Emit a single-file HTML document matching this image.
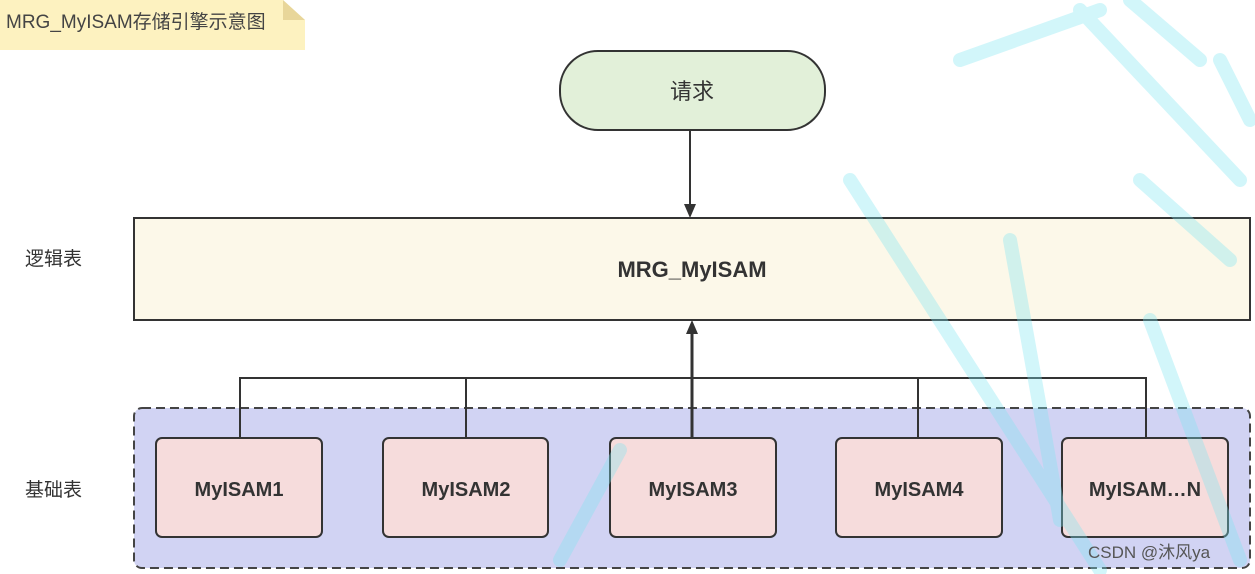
<!DOCTYPE html>
<html><head><meta charset="utf-8"><style>
body{margin:0;width:1255px;height:574px;background:#fff;overflow:hidden;font-family:"Liberation Sans","Noto Sans CJK SC",sans-serif;}
</style></head><body>
<svg width="1255" height="574" xmlns="http://www.w3.org/2000/svg" style="position:absolute;left:0;top:0">
<polygon points="0,0 283,0 305,20 305,50 0,50" fill="#fdf2c0"/>
<polygon points="283,0 305,20 283,20" fill="#e8d69a"/>
<text x="6" y="28" font-size="19" fill="#444">MRG_MyISAM存储引擎示意图</text>
<rect x="560" y="51" width="265" height="79" rx="38" fill="#e2f0d9" stroke="#333" stroke-width="2"/>
<text x="692" y="99" font-size="22" fill="#333" text-anchor="middle">请求</text>
<line x1="690" y1="130" x2="690" y2="206" stroke="#333" stroke-width="2"/>
<polygon points="684,204 696,204 690,218" fill="#333"/>
<rect x="134" y="218" width="1116" height="102" fill="#fcf8e9" stroke="#333" stroke-width="2"/>
<text x="692" y="277" font-size="22" font-weight="bold" fill="#333" text-anchor="middle">MRG_MyISAM</text>
<text x="25" y="265" font-size="19" fill="#333">逻辑表</text>
<text x="25" y="496" font-size="19" fill="#333">基础表</text>
<rect x="134" y="408" width="1116" height="160" rx="8" fill="#d1d3f3" stroke="#444" stroke-width="2" stroke-dasharray="9,5"/>
<polyline points="240,438 240,378 1146,378 1146,438" fill="none" stroke="#333" stroke-width="2"/>
<line x1="466" y1="378" x2="466" y2="438" stroke="#333" stroke-width="2"/>
<line x1="918" y1="378" x2="918" y2="438" stroke="#333" stroke-width="2"/>
<line x1="692" y1="438" x2="692" y2="332" stroke="#333" stroke-width="3"/>
<polygon points="686,334 698,334 692,320" fill="#333"/>
<g fill="#f6dcdc" stroke="#333" stroke-width="2">
<rect x="156" y="438" width="166" height="99" rx="6"/>
<rect x="383" y="438" width="165" height="99" rx="6"/>
<rect x="610" y="438" width="166" height="99" rx="6"/>
<rect x="836" y="438" width="166" height="99" rx="6"/>
<rect x="1062" y="438" width="166" height="99" rx="6"/>
</g>
<g font-size="20" font-weight="bold" fill="#333" text-anchor="middle">
<text x="239" y="496">MyISAM1</text><text x="466" y="496">MyISAM2</text>
<text x="693" y="496">MyISAM3</text><text x="919" y="496">MyISAM4</text>
<text x="1145" y="496">MyISAM…N</text>
</g>
<g stroke="#7fe6f2" stroke-width="14" fill="none" opacity="0.35" stroke-linecap="round">
<path d="M1080 10 L1240 180"/><path d="M960 60 L1100 10"/><path d="M850 180 L1100 570"/>
<path d="M1010 240 L1060 520"/><path d="M1150 320 L1240 560"/><path d="M620 450 L560 560"/>
<path d="M1130 0 L1200 60"/><path d="M1220 60 L1250 120"/><path d="M1140 180 L1230 260"/>
</g>
<text x="1088" y="558" font-size="17" fill="#555">CSDN @沐风ya</text>
</svg>
</body></html>
